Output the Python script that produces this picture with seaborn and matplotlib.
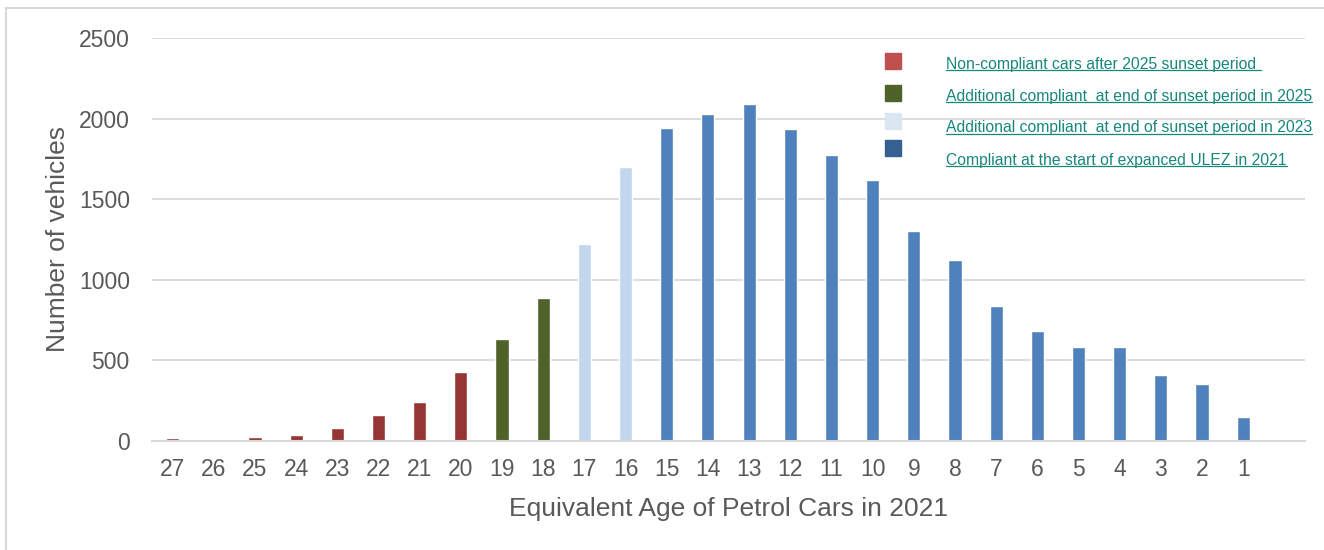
import matplotlib.pyplot as plt
import seaborn as sns
import pandas as pd
from matplotlib.patches import Rectangle
from matplotlib.lines import Line2D

# Datos
ages = [str(a) for a in range(27, 0, -1)]
vehicles = [18, 0, 25, 40, 80, 160, 245, 425, 630, 885, 1225, 1700,
            1940, 2030, 2090, 1935, 1775, 1620, 1300, 1125, 840, 680,
            585, 585, 410, 355, 150]
groups = (["noncompliant"] * 8 + ["sunset2025"] * 2 + ["sunset2023"] * 2
          + ["start2021"] * 15)

bar_colors = {"noncompliant": "#963634", "sunset2025": "#4F6228",
              "sunset2023": "#C3D6EF", "start2021": "#4F81BD"}
legend_labels = ["Non-compliant cars after 2025 sunset period ",
                 "Additional compliant  at end of sunset period in 2025",
                 "Additional compliant  at end of sunset period in 2023",
                 "Compliant at the start of expanced ULEZ in 2021"]
legend_colors = ["#C0504D", "#4F6228", "#DCE6F2", "#376092"]

df = pd.DataFrame({"age": ages, "vehicles": vehicles, "group": groups})

sns.set_theme(style="white")
plt.rcParams["font.family"] = ["Liberation Sans", "DejaVu Sans"]

fig = plt.figure(figsize=(13.24, 5.5), dpi=100)
W, H = 1324, 550
ax = fig.add_axes([152 / W, 1 - 441 / H, (1305 - 152) / W, (441 - 38) / H])

sns.barplot(data=df, x="age", y="vehicles", hue="group", order=ages,
            palette=bar_colors, dodge=False, width=0.32, legend=False,
            saturation=1, ax=ax)

ax.set_xlim(-0.5, 27.5)
ax.set_ylim(0, 2500)
ax.set_yticks(range(0, 2501, 500))
ax.yaxis.grid(True, color="#D9D9D9", linewidth=1.3)
ax.set_axisbelow(True)
for s in ["left", "right", "top"]:
    ax.spines[s].set_visible(False)
ax.spines["bottom"].set_color("#D9D9D9")
ax.spines["bottom"].set_linewidth(1.5)
ax.tick_params(axis="both", length=0, labelsize=16.5, labelcolor="#595959")
ax.tick_params(axis="y", pad=16)
ax.tick_params(axis="x", pad=12)
ax.set_xlabel("Equivalent Age of Petrol Cars in 2021", fontsize=19,
              color="#595959", labelpad=12)
ax.set_ylabel("Number of vehicles", fontsize=19, color="#595959",
              labelpad=6)

# Leyenda manual
sq_tops = [53, 85, 113, 140]
text_y = [64, 96, 128, 160]
for lab, col, st, ty in zip(legend_labels, legend_colors, sq_tops, text_y):
    fig.patches.append(Rectangle((885 / W, 1 - (st + 16) / H), 16 / W, 16 / H,
                                 transform=fig.transFigure, color=col))
    fig.text(946 / W, 1 - ty / H, lab, fontsize=11.3, color="#17877C",
             va="center", ha="left")

fig.canvas.draw()
renderer = fig.canvas.get_renderer()
for t in fig.texts:
    bb = t.get_window_extent(renderer).transformed(fig.transFigure.inverted())
    fig.lines.append(Line2D([bb.x0, bb.x1], [bb.y0 + 0.002, bb.y0 + 0.002],
                            transform=fig.transFigure, color="#17877C",
                            linewidth=0.9))

# Marco
fig.lines.append(Line2D([6 / W, 6 / W], [0, 1 - 8 / H],
                        transform=fig.transFigure, color="#D9D9D9", linewidth=1.5))
fig.lines.append(Line2D([6 / W, 1], [1 - 8 / H, 1 - 8 / H],
                        transform=fig.transFigure, color="#D9D9D9", linewidth=1.5))

fig.savefig("out.png", dpi=100)
